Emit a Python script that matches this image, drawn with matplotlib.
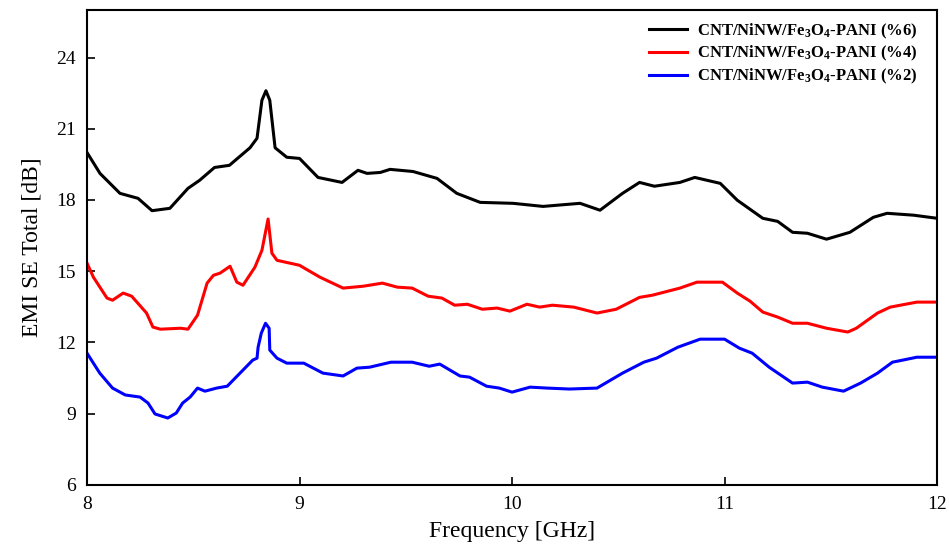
import matplotlib
matplotlib.use("Agg")
import matplotlib.pyplot as plt

plt.rcParams['font.family'] = ['Liberation Serif', 'DejaVu Serif']
plt.rcParams['mathtext.fontset'] = 'custom'
plt.rcParams['mathtext.rm'] = 'Liberation Serif'
plt.rcParams['mathtext.default'] = 'regular'

# Black: %6
f6 = [8.0, 8.061, 8.155, 8.24, 8.306, 8.39, 8.475, 8.53, 8.60, 8.67, 8.767, 8.80, 8.823, 8.842,
      8.86, 8.885, 8.94, 9.0, 9.087, 9.2, 9.275, 9.318, 9.38, 9.426, 9.534, 9.647, 9.74, 9.85,
      10.005, 10.146, 10.32, 10.414, 10.52, 10.60, 10.67, 10.79, 10.86, 10.98, 11.06, 11.18,
      11.25, 11.32, 11.39, 11.48, 11.59, 11.70, 11.765, 11.89, 12.0]
se6 = [20.0, 19.12, 18.28, 18.07, 17.55, 17.65, 18.49, 18.83, 19.37, 19.46, 20.2, 20.6, 22.2, 22.6,
       22.2, 20.2, 19.8, 19.75, 18.95, 18.74, 19.25, 19.12, 19.16, 19.29, 19.2, 18.91, 18.28, 17.9,
       17.86, 17.73, 17.86, 17.57, 18.28, 18.74, 18.58, 18.74, 18.95, 18.7, 17.99, 17.23,
       17.1, 16.64, 16.6, 16.35, 16.64, 17.27, 17.44, 17.36, 17.23]

# Red: %4
f4 = [8.0, 8.03, 8.094, 8.12, 8.17, 8.21, 8.28, 8.31, 8.345, 8.44, 8.475, 8.52, 8.565, 8.595,
      8.626, 8.673, 8.705, 8.734, 8.79, 8.823, 8.852, 8.87, 8.894, 8.955, 9.0, 9.096, 9.205,
      9.30, 9.39, 9.46, 9.53, 9.605, 9.67, 9.73, 9.79, 9.86, 9.93, 9.99, 10.07, 10.13, 10.19,
      10.29, 10.33, 10.40, 10.49, 10.60, 10.66, 10.79, 10.87, 10.99, 11.06, 11.12, 11.18, 11.25,
      11.32, 11.39, 11.48, 11.58, 11.62, 11.72, 11.78, 11.905, 12.0]
se4 = [15.34, 14.75, 13.87, 13.78, 14.08, 13.95, 13.24, 12.65, 12.56, 12.6, 12.56, 13.15, 14.5, 14.83,
       14.92, 15.21, 14.54, 14.41, 15.17, 15.88, 17.2, 15.76, 15.46, 15.34, 15.25, 14.75, 14.29,
       14.37, 14.5, 14.33, 14.29, 13.95, 13.87, 13.57, 13.61, 13.4, 13.45, 13.32, 13.61, 13.49, 13.57,
       13.49, 13.4, 13.24, 13.4, 13.9, 13.99, 14.29, 14.54, 14.54, 14.08, 13.74, 13.28, 13.07,
       12.81, 12.81, 12.6, 12.44, 12.6, 13.24, 13.49, 13.7, 13.7]

# Blue: %2
f2 = [8.0, 8.06, 8.12, 8.18, 8.25, 8.287, 8.32, 8.38, 8.42, 8.45, 8.485, 8.52, 8.555, 8.61, 8.66,
      8.72, 8.78, 8.80, 8.805, 8.82, 8.84, 8.857, 8.86, 8.894, 8.94, 9.02, 9.11, 9.205, 9.27, 9.33,
      9.43, 9.53, 9.61, 9.66, 9.755, 9.80, 9.88, 9.94, 10.0, 10.085, 10.165, 10.27, 10.40, 10.52,
      10.62, 10.68, 10.78, 10.885, 11.0, 11.07, 11.13, 11.21, 11.32, 11.39, 11.46, 11.56, 11.64,
      11.72, 11.79, 11.905, 12.0]
se2 = [11.55, 10.71, 10.08, 9.79, 9.70, 9.45, 8.99, 8.82, 9.03, 9.45, 9.70, 10.08, 9.95, 10.08, 10.16,
       10.71, 11.26, 11.34, 11.8, 12.39, 12.81, 12.6, 11.68, 11.34, 11.13, 11.13, 10.71, 10.59, 10.92, 10.96,
       11.17, 11.17, 11.0, 11.09, 10.59, 10.54, 10.16, 10.08, 9.91, 10.12, 10.08, 10.04, 10.08, 10.71,
       11.17, 11.34, 11.8, 12.14, 12.14, 11.76, 11.55, 10.96, 10.29, 10.33, 10.12, 9.95, 10.29,
       10.71, 11.17, 11.38, 11.38]

labels = ['CNT/NiNW/Fe$_3$O$_4$-PANI (%6)',
          'CNT/NiNW/Fe$_3$O$_4$-PANI (%4)',
          'CNT/NiNW/Fe$_3$O$_4$-PANI (%2)']
xticks = [8, 9, 10, 11, 12]
yticks = [6, 9, 12, 15, 18, 21, 24]

fig = plt.figure(figsize=(9.49, 5.44), dpi=100)
ax = fig.add_axes([0.0917, 0.1085, 0.8957, 0.8731])

ax.plot(f6, se6, color='black', lw=2.2, label=labels[0])
ax.plot(f4, se4, color='#ff0000', lw=2.2, label=labels[1])
ax.plot(f2, se2, color='#0000ff', lw=2.2, label=labels[2])

ax.set_xlim(8, 12)
ax.set_ylim(6, 26)
ax.set_xticks(xticks)
ax.set_yticks(yticks)
ax.tick_params(direction='in', length=6, width=1.2, labelsize=14, pad=8)
for s in ax.spines.values():
    s.set_linewidth(1.5)

ax.set_xlabel('Frequency [GHz]', fontsize=17, labelpad=6)
ax.set_ylabel('EMI SE Total [dB]', fontsize=17, labelpad=10)

leg = ax.legend(loc='upper right', bbox_to_anchor=(0.9906, 1.0), frameon=False,
                prop={'weight': 'bold', 'size': 12}, handlelength=2.3,
                handletextpad=0.6, labelspacing=0.2, borderaxespad=0.3)

fig.savefig('out.png', dpi=100)
